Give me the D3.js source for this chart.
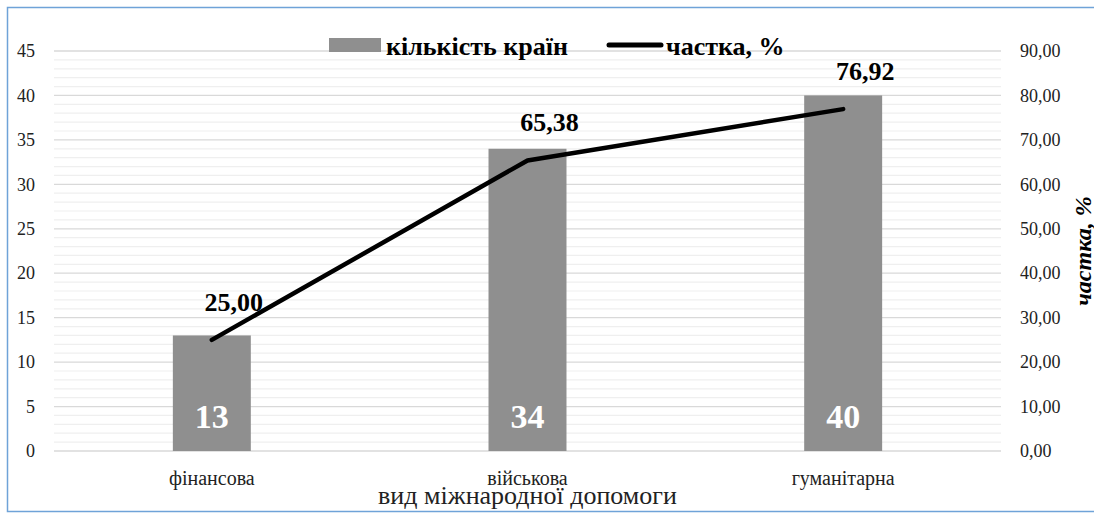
<!DOCTYPE html>
<html><head><meta charset="utf-8">
<script src="https://cdn.jsdelivr.net/npm/d3@7"></script>
<style>html,body{margin:0;padding:0;background:#fff;}svg{display:block;}</style>
</head><body>
<script>
const categories = ["фінансова", "військова", "гуманітарна"];
const countValues = [13, 34, 40];
const shareValues = [25.00, 65.38, 76.92];
const leftTicks = [0, 5, 10, 15, 20, 25, 30, 35, 40, 45];
const rightTicks = [0, 10, 20, 30, 40, 50, 60, 70, 80, 90];
const seriesNames = ["кількість країн", "частка, %"];
const xTitle = "вид міжнародної допомоги";
const yRightTitle = "частка, %";

(function () {
const W = 1094, H = 513;
const font = '"Liberation Serif", "Times New Roman", Tinos, FreeSerif, serif';
const svg = d3.select("body").append("svg").attr("width", W).attr("height", H)
  .style("font-family", font);

// outer frame
svg.append("rect").attr("x", 7.5).attr("y", 7.5).attr("width", W + 10).attr("height", 504)
  .attr("fill", "none").attr("stroke", "#6fa3d8").attr("stroke-width", 1.5);

const pl = 54, pr = 1001, pt = 51, pb = 451;
const x = d3.scaleBand().domain(categories).range([pl, pr]).padding(0);
const yL = d3.scaleLinear().domain([0, 45]).range([pb, pt]);
const yR = d3.scaleLinear().domain([0, 90]).range([pb, pt]);

// minor grid
const minor = d3.range(0, 46, 1).filter(v => v % 5 !== 0);
svg.append("g").selectAll("line").data(minor).join("line")
  .attr("x1", pl).attr("x2", pr)
  .attr("y1", d => yL(d)).attr("y2", d => yL(d))
  .attr("stroke", "#efefef").attr("stroke-width", 1.2);
// major grid
svg.append("g").selectAll("line").data(leftTicks).join("line")
  .attr("x1", pl).attr("x2", pr)
  .attr("y1", d => yL(d)).attr("y2", d => yL(d))
  .attr("stroke", "#d9d9d9").attr("stroke-width", 1.3);

function styleText(sel, size) {
  sel.style("font-family", font).style("font-size", size + "px").attr("fill", "#222");
}

// left axis
const gL = svg.append("g").attr("transform", `translate(${pl},0)`)
  .call(d3.axisLeft(yL).tickValues(leftTicks).tickSize(0).tickPadding(19).tickFormat(d3.format("d")));
gL.select(".domain").remove();
gL.attr("font-family", null);
styleText(gL.selectAll("text"), 18);

// right axis
const fmt = d => d.toFixed(2).replace(".", ",");
const gR = svg.append("g").attr("transform", `translate(${pr},0)`)
  .call(d3.axisRight(yR).tickValues(rightTicks).tickSize(0).tickPadding(19).tickFormat(fmt));
gR.select(".domain").remove();
gR.attr("font-family", null);
styleText(gR.selectAll("text"), 18);

// x axis labels
const gX = svg.append("g").attr("transform", `translate(0,${pb})`)
  .call(d3.axisBottom(x).tickSize(0).tickPadding(20));
gX.select(".domain").remove();
gX.attr("font-family", null);
styleText(gX.selectAll("text"), 20);

// bars
const bw = x.bandwidth() * 0.247;
svg.append("g").selectAll("rect").data(countValues).join("rect")
  .attr("x", (d, i) => x(categories[i]) + x.bandwidth() / 2 - bw / 2)
  .attr("width", bw)
  .attr("y", d => yL(d)).attr("height", d => yL(0) - yL(d))
  .attr("fill", "#8f8f8f");

// bar labels
svg.append("g").selectAll("text").data(countValues).join("text")
  .attr("x", (d, i) => x(categories[i]) + x.bandwidth() / 2)
  .attr("y", 428)
  .attr("text-anchor", "middle").style("font-family", font).style("font-weight", "bold")
  .style("font-size", "34px").attr("fill", "#fff").text(d => d);

// line
const cx = (d, i) => x(categories[i]) + x.bandwidth() / 2;
svg.append("path").datum(shareValues)
  .attr("d", d3.line().x(cx).y(d => yR(d)))
  .attr("fill", "none").attr("stroke", "#000").attr("stroke-width", 4.5)
  .attr("stroke-linecap", "round").attr("stroke-linejoin", "round");

// line labels
svg.append("g").selectAll("text").data(shareValues).join("text")
  .attr("x", (d, i) => cx(d, i) + 22)
  .attr("y", d => yR(d) - 29)
  .attr("text-anchor", "middle").style("font-family", font).style("font-weight", "bold")
  .style("font-size", "26px").attr("fill", "#000").text(d => fmt(d));

// legend
const lg = svg.append("g");
lg.append("rect").attr("x", 329).attr("y", 38).attr("width", 52).attr("height", 14).attr("fill", "#8f8f8f");
lg.append("text").attr("x", 386).attr("y", 55).style("font-family", font).style("font-weight", "bold")
  .style("font-size", "26px").attr("fill", "#000").text(seriesNames[0]);
lg.append("line").attr("x1", 609).attr("x2", 661).attr("y1", 45).attr("y2", 45)
  .attr("stroke", "#000").attr("stroke-width", 5).attr("stroke-linecap", "round");
lg.append("text").attr("x", 666).attr("y", 55).style("font-family", font).style("font-weight", "bold")
  .style("font-size", "26px").attr("fill", "#000").text(seriesNames[1]);

// x title
svg.append("text").attr("x", (pl + pr) / 2).attr("y", 504).attr("text-anchor", "middle")
  .style("font-family", font).style("font-size", "26px").attr("fill", "#222").text(xTitle);

// right title
svg.append("text").attr("transform", `translate(1091,251) rotate(-90)`).attr("text-anchor", "middle")
  .style("font-family", font).style("font-weight", "bold").style("font-style", "italic")
  .style("font-size", "24px").attr("fill", "#000").text(yRightTitle);
})();
</script>
</body></html>
